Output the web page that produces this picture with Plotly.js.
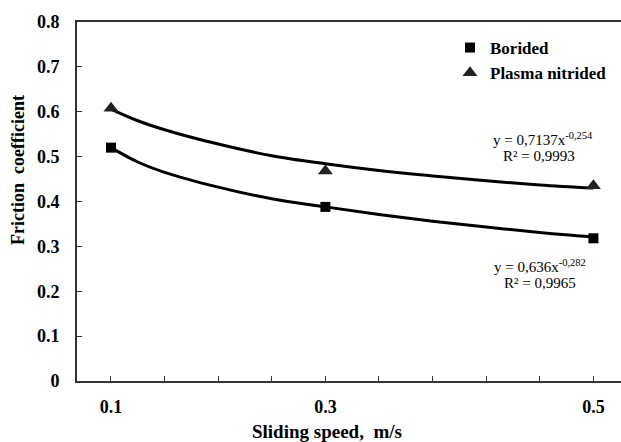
<!DOCTYPE html>
<html>
<head>
<meta charset="utf-8">
<script src="https://cdn.plot.ly/plotly-3.0.1.min.js"></script>
<style>html,body{margin:0;padding:0;background:#fff;}#chart{width:621px;height:442px;}</style>
</head>
<body>
<div id="chart"></div>
<script>
// Measured sliding speeds (labels) and their position on the axis (tick index)
const speedLabels = ["0.1", "0.3", "0.5"];
const speedTick = [1, 5, 10];
const tickSlots = [1, 2, 3, 4, 5, 6, 7, 8, 9, 10];

// Measured friction coefficients
const borided = [0.52, 0.388, 0.318];
const plasma = [0.608, 0.468, 0.435];

// Power trendlines as drawn
const trendPos = [1, 1.5, 2, 3, 4, 5, 6, 7, 8, 9, 10];
const trendBorided = [0.52, 0.488, 0.465, 0.432, 0.406, 0.388, 0.371, 0.356, 0.343, 0.331, 0.321];
const trendPlasma = [0.606, 0.58, 0.56, 0.528, 0.502, 0.484, 0.469, 0.457, 0.446, 0.437, 0.43];

const eqBorided = ["y = 0,636x<sup>-0,282</sup>", "R² = 0,9965"];
const eqPlasma = ["y = 0,7137x<sup>-0,254</sup>", "R² = 0,9993"];

const serif = "Liberation Serif, Times New Roman, serif";
const tickText = tickSlots.map(v => { const i = speedTick.indexOf(v); return i >= 0 ? speedLabels[i] : ""; });

const traces = [
  {x: trendPos, y: trendBorided, mode: "lines", line: {color: "#000", width: 3, shape: "spline"}, showlegend: false, hoverinfo: "skip"},
  {x: trendPos, y: trendPlasma, mode: "lines", line: {color: "#000", width: 3, shape: "spline"}, showlegend: false, hoverinfo: "skip"},
  {x: speedTick, y: borided, mode: "markers", name: "Borided", marker: {symbol: "square", size: 10, color: "#000"}},
  {x: speedTick, y: plasma, mode: "markers", name: "Plasma nitrided", marker: {symbol: "triangle-up", size: 13, color: "#222"}}
];

const W = 621, H = 442, L = 77, T = 22, B = 61, R = 0;
const pw = W - L - R, ph = H - T - B;
const px = x => (x - L) / pw;
const py = y => (H - B - y) / ph;

const eqFont = {family: serif, size: 15, color: "#000"};
const ann = (text, x, y, font, extra) => Object.assign({text, xref: "paper", yref: "paper", x: px(x), y: py(y), xanchor: "center", yanchor: "middle", showarrow: false, font}, extra || {});
const titleFont = {family: serif, size: 18, color: "#000", weight: "bold"};
const xTitleFont = {family: serif, size: 19, color: "#000", weight: "bold"};

const layout = {
  width: W, height: H,
  margin: {l: L, r: R, t: T, b: B, pad: 0},
  paper_bgcolor: "#fff", plot_bgcolor: "#fff",
  font: {family: serif, color: "#000"},
  xaxis: {
    range: [0.366, 10.515], tickvals: tickSlots, ticktext: tickText,
    ticks: "inside", ticklen: 5, tickwidth: 1, tickcolor: "#333",
    showline: true, linewidth: 2, linecolor: "#333", mirror: true,
    showgrid: false, zeroline: false,
    tickfont: {family: serif, size: 18, color: "#000", weight: "bold"},
    ticklabelstandoff: 8
  },
  yaxis: {
    range: [0, 0.8], dtick: 0.1, tick0: 0,
    ticks: "inside", ticklen: 5, tickwidth: 1, tickcolor: "#333",
    showline: true, linewidth: 2, linecolor: "#333",
    showgrid: false, zeroline: false,
    tickfont: {family: serif, size: 18, color: "#000", weight: "bold"},
    ticklabelstandoff: 12
  },
  legend: {
    x: px(450), y: py(30), xanchor: "left", yanchor: "top",
    bgcolor: "rgba(0,0,0,0)", borderwidth: 0,
    font: {family: serif, size: 17, color: "#000", weight: "bold"}
  },
  annotations: [
    ann("Friction\u00a0\u00a0coefficient", 18, 170, titleFont, {textangle: -90}),
    ann("Sliding speed,\u00a0\u00a0m/s", 327, 431, xTitleFont),
    ann(eqPlasma[0], 543, 139, eqFont),
    ann(eqPlasma[1], 539, 156, eqFont),
    ann(eqBorided[0], 540, 266, eqFont),
    ann(eqBorided[1], 540, 283, eqFont)
  ]
};

Plotly.newPlot("chart", traces, layout, {staticPlot: true, displayModeBar: false});
</script>
</body>
</html>
